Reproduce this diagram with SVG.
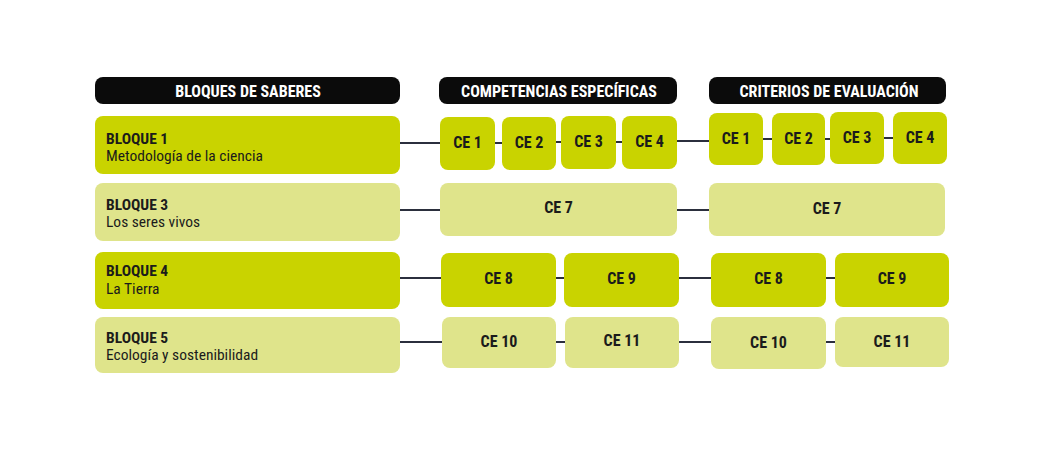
<svg xmlns="http://www.w3.org/2000/svg" width="1050" height="450" viewBox="0 0 1050 450">
<style>
text{font-family:"Roboto Condensed","DejaVu Sans Condensed","Liberation Sans Narrow",Roboto,sans-serif;fill:#1b1b1b}
.hdr rect{fill:#0b0b0b}
.hdr text{fill:#ffffff;font-weight:700;font-size:16px;text-anchor:middle}
.dk{fill:#c9d300}
.lt{fill:#dfe48b}
.b{font-weight:700;font-size:15.5px}
.r{font-size:15.5px}
.ce{font-weight:700;font-size:16px;text-anchor:middle}
#connectors line{stroke:#2b2f3d;stroke-width:2}
</style>
<rect width="1050" height="450" fill="#ffffff"/>
<g id="connectors">
<line x1="400" y1="143" x2="440" y2="143"/>
<line x1="495" y1="143" x2="502" y2="143"/>
<line x1="556" y1="142" x2="561" y2="142"/>
<line x1="616" y1="142" x2="622" y2="142"/>
<line x1="677" y1="141" x2="709" y2="141"/>
<line x1="763" y1="139" x2="772" y2="139"/>
<line x1="825" y1="139" x2="830" y2="139"/>
<line x1="884" y1="138" x2="893" y2="138"/>
<line x1="400" y1="210" x2="440" y2="210"/>
<line x1="677" y1="210" x2="709" y2="210"/>
<line x1="400" y1="278" x2="441" y2="278"/>
<line x1="556" y1="278" x2="564" y2="278"/>
<line x1="679" y1="278" x2="711" y2="278"/>
<line x1="826" y1="278" x2="835" y2="278"/>
<line x1="400" y1="342" x2="442" y2="342"/>
<line x1="556" y1="342" x2="565" y2="342"/>
<line x1="679" y1="342" x2="711" y2="342"/>
<line x1="826" y1="342" x2="835" y2="342"/>
</g>
<g id="hdr-saberes" class="hdr"><rect x="95" y="77" width="305" height="27" rx="8"/><text x="248" y="97">BLOQUES DE SABERES</text></g>
<g id="hdr-competencias" class="hdr"><rect x="439" y="77" width="238" height="27" rx="8"/><text x="559" y="97">COMPETENCIAS ESPECÍFICAS</text></g>
<g id="hdr-criterios" class="hdr"><rect x="709" y="77" width="237" height="27" rx="8"/><text x="829" y="97">CRITERIOS DE EVALUACIÓN</text></g>

<g id="bloque1"><rect class="dk" x="95" y="116" width="305" height="58" rx="8"/><text class="b" x="106" y="144">BLOQUE 1</text><text class="r" x="106" y="161">Metodología de la ciencia</text></g>
<g id="bloque3"><rect class="lt" x="95" y="183" width="305" height="58" rx="8"/><text class="b" x="106" y="210">BLOQUE 3</text><text class="r" x="106" y="227">Los seres vivos</text></g>
<g id="bloque4"><rect class="dk" x="95" y="252" width="305" height="57" rx="8"/><text class="b" x="106" y="276">BLOQUE 4</text><text class="r" x="106" y="294">La Tierra</text></g>
<g id="bloque5"><rect class="lt" x="95" y="317" width="305" height="56" rx="8"/><text class="b" x="106" y="343">BLOQUE 5</text><text class="r" x="106" y="360">Ecología y sostenibilidad</text></g>

<g id="comp-ce1"><rect class="dk" x="440" y="117" width="55" height="53" rx="8"/><text class="ce" x="467.5" y="148">CE 1</text></g>
<g id="comp-ce2"><rect class="dk" x="502" y="117" width="54" height="53" rx="8"/><text class="ce" x="529" y="148">CE 2</text></g>
<g id="comp-ce3"><rect class="dk" x="561" y="116" width="55" height="53" rx="8"/><text class="ce" x="588.5" y="147">CE 3</text></g>
<g id="comp-ce4"><rect class="dk" x="622" y="116" width="55" height="53" rx="8"/><text class="ce" x="649.5" y="147">CE 4</text></g>
<g id="crit-ce1"><rect class="dk" x="709" y="113" width="54" height="52" rx="8"/><text class="ce" x="736" y="144">CE 1</text></g>
<g id="crit-ce2"><rect class="dk" x="772" y="113" width="53" height="52" rx="8"/><text class="ce" x="798.5" y="144">CE 2</text></g>
<g id="crit-ce3"><rect class="dk" x="830" y="112" width="54" height="52" rx="8"/><text class="ce" x="857" y="143">CE 3</text></g>
<g id="crit-ce4"><rect class="dk" x="893" y="112" width="54" height="52" rx="8"/><text class="ce" x="920" y="143">CE 4</text></g>

<g id="comp-ce7"><rect class="lt" x="440" y="183" width="237" height="53" rx="8"/><text class="ce" x="558.5" y="213">CE 7</text></g>
<g id="crit-ce7"><rect class="lt" x="709" y="183" width="236" height="53" rx="8"/><text class="ce" x="827" y="214">CE 7</text></g>

<g id="comp-ce8"><rect class="dk" x="441" y="253" width="115" height="54" rx="8"/><text class="ce" x="498.5" y="284">CE 8</text></g>
<g id="comp-ce9"><rect class="dk" x="564" y="253" width="115" height="54" rx="8"/><text class="ce" x="621.5" y="284">CE 9</text></g>
<g id="crit-ce8"><rect class="dk" x="711" y="253" width="115" height="54" rx="8"/><text class="ce" x="768.5" y="284">CE 8</text></g>
<g id="crit-ce9"><rect class="dk" x="835" y="253" width="114" height="54" rx="8"/><text class="ce" x="892" y="284">CE 9</text></g>

<g id="comp-ce10"><rect class="lt" x="442" y="317" width="114" height="51" rx="8"/><text class="ce" x="499" y="347">CE 10</text></g>
<g id="comp-ce11"><rect class="lt" x="565" y="317" width="114" height="51" rx="8"/><text class="ce" x="622" y="346">CE 11</text></g>
<g id="crit-ce10"><rect class="lt" x="711" y="317" width="115" height="52" rx="8"/><text class="ce" x="768.5" y="348">CE 10</text></g>
<g id="crit-ce11"><rect class="lt" x="835" y="317" width="114" height="50" rx="8"/><text class="ce" x="892" y="347">CE 11</text></g>
</svg>
